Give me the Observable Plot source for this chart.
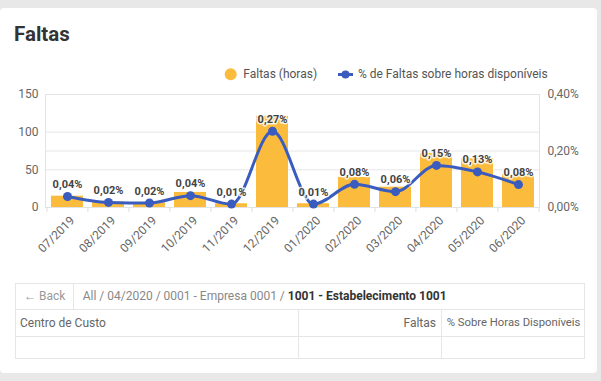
<!DOCTYPE html>
<html>
<head>
<meta charset="utf-8">
<script src="https://cdn.jsdelivr.net/npm/d3@7"></script>
<script src="https://cdn.jsdelivr.net/npm/@observablehq/plot@0.6"></script>
<style>
  html, body { margin: 0; padding: 0; }
  body { width: 601px; height: 381px; background: #e8e8e8; position: relative; overflow: hidden; font-family: Roboto, sans-serif; }
  .card { position: absolute; left: 0; top: 8px; width: 597px; height: 365px; background: #fff; border-radius: 4px; }
  .abs { position: absolute; white-space: nowrap; line-height: 12px; font-size: 12px; }
  #title { position: absolute; left: 14px; top: 24px; font-size: 20.5px; line-height: 20px; font-weight: bold; color: #333; }
  #chart { position: absolute; left: 0; top: 0; }
  .tbl { position: absolute; left: 14.5px; top: 282.5px; width: 568px; height: 74px; border: 1px solid #e6e6e6; box-sizing: content-box; }
  .hl { position: absolute; height: 1px; background: #e6e6e6; }
  .vl { position: absolute; width: 1px; background: #e6e6e6; }
</style>
</head>
<body>
<div class="card"></div>
<div id="title">Faltas</div>
<svg class="abs" style="left:0;top:60px;width:601px;height:30px;" width="601" height="30">
  <circle cx="230.7" cy="14.3" r="6" fill="#fbbc3d"></circle>
  <line x1="338" x2="353" y1="14.5" y2="14.5" stroke="#3a5cbf" stroke-width="3"></line>
  <circle cx="345.5" cy="14.5" r="4" fill="#3a5cbf"></circle>
</svg>
<div class="abs" id="leg1" style="left:243.3px;top:68.4px;color:#555;"></div>
<div class="abs" id="leg2" style="left:358px;top:68.4px;color:#555;"></div>
<div id="chart"></div>

<div class="tbl"></div>
<div class="hl" style="left:14.5px;top:309px;width:570px;"></div>
<div class="hl" style="left:14.5px;top:335.5px;width:570px;"></div>
<div class="vl" style="left:73px;top:282.5px;height:27px;"></div>
<div class="vl" style="left:298px;top:309px;height:48.5px;"></div>
<div class="vl" style="left:441px;top:309px;height:48.5px;"></div>
<div class="abs" id="back" style="left:24px;top:290px;color:#999;"></div>
<div class="abs" id="crumb" style="left:82.7px;top:290px;color:#888;"></div>
<div class="abs" id="h1" style="left:20px;top:316.6px;color:#666;"></div>
<div class="abs" id="h2" style="right:165px;top:316.6px;color:#666;"></div>
<div class="abs" id="h3" style="left:446.7px;top:316.8px;color:#666;font-size:11.3px;"></div>

<script>
// ---- data ----
const months = ["07/2019","08/2019","09/2019","10/2019","11/2019","12/2019","01/2020","02/2020","03/2020","04/2020","05/2020","06/2020"];
const faltas = [15, 7, 6, 20, 5, 121, 5, 40, 27, 72, 65, 44];
const pct = [0.039, 0.018, 0.016, 0.042, 0.012, 0.27, 0.012, 0.082, 0.056, 0.149, 0.126, 0.081];
const leftTicks = [0, 50, 100, 150];
const rightTicks = [0, 0.2, 0.4];
const rightTickLabels = ["0,00%", "0,20%", "0,40%"];
const legendLabels = ["Faltas (horas)", "% de Faltas sobre horas disponíveis"];
const crumbs = ["All", "04/2020", "0001 - Empresa 0001", "1001 - Estabelecimento 1001"];
const headers = ["Centro de Custo", "Faltas", "% Sobre Horas Disponíveis"];

// ---- text ----
document.getElementById("leg1").textContent = legendLabels[0];
document.getElementById("leg2").textContent = legendLabels[1];
document.getElementById("back").textContent = "\u2190 Back";
const crumbEl = document.getElementById("crumb");
crumbEl.innerHTML = crumbs.slice(0, -1).map(c => c + " / ").join("") +
  `<b style="color:#333">${crumbs[crumbs.length - 1]}</b>`;
document.getElementById("h1").textContent = headers[0];
document.getElementById("h2").textContent = headers[1];
document.getElementById("h3").textContent = headers[2];

// ---- chart ----
const ratio = 150 / 0.4;
const data = months.map((m, i) => ({
  month: m,
  faltas: faltas[i],
  py: pct[i] * ratio,
  label: pct[i].toFixed(2).replace(".", ",") + "%"
}));
const blue = "#3a5cbf";
const orange = "#fbbc3d";
const W = 601, mL = 45, mR = 62;
const step = (W - mL - mR) / months.length;

const chart = Plot.plot({
  width: W, height: 270,
  marginTop: 94, marginBottom: 63, marginLeft: mL, marginRight: mR,
  style: { background: "transparent", fontFamily: "Roboto, sans-serif", fontSize: "12px", color: "#666", overflow: "visible" },
  x: { domain: months, type: "band", paddingInner: 0.22, paddingOuter: 0.11, axis: null },
  y: { domain: [0, 150], axis: null },
  marks: [
    Plot.gridY([...leftTicks, ...rightTicks.map(v => v * ratio)], { stroke: "#e6e6e6", strokeOpacity: 1 }),
    Plot.frame({ stroke: "#e3e3e3" }),
    Plot.ruleX(months, { x: d => d, y1: 0, y2: 0, dx: -step / 2, insetBottom: -5, stroke: "#ddd" }),
    Plot.ruleX(months.slice(-1), { x: d => d, y1: 0, y2: 0, dx: step / 2, insetBottom: -5, stroke: "#ddd" }),
    Plot.axisY(leftTicks, { anchor: "left", tickSize: 0, tickPadding: 7, fontSize: 12, color: "#666", label: null }),
    Plot.axisY(rightTicks.map(v => v * ratio), {
      anchor: "right", tickSize: 0, tickPadding: 8, fontSize: 12, color: "#666", label: null,
      tickFormat: d => rightTickLabels[rightTicks.findIndex(v => Math.abs(v * ratio - d) < 1e-6)]
    }),
    Plot.text(data, { x: "month", frameAnchor: "bottom", text: "month", rotate: -45, textAnchor: "end", lineAnchor: "middle", dx: 5, dy: 11, fill: "#666", fontSize: 12 }),
    Plot.barY(data, { x: "month", y: "faltas", fill: orange }),
    Plot.line(data, { x: "month", y: "py", curve: "monotone-x", stroke: blue, strokeWidth: 3 }),
    Plot.dot(data, { x: "month", y: "py", r: 4.5, fill: blue }),
    Plot.text(data, { x: "month", y: "py", text: "label", dy: -12, fontSize: 11, fontWeight: "bold", fill: "#444", stroke: "white", strokeWidth: 3, strokeOpacity: 0.8 })
  ]
});
document.getElementById("chart").appendChild(chart);
</script>
</body>
</html>
